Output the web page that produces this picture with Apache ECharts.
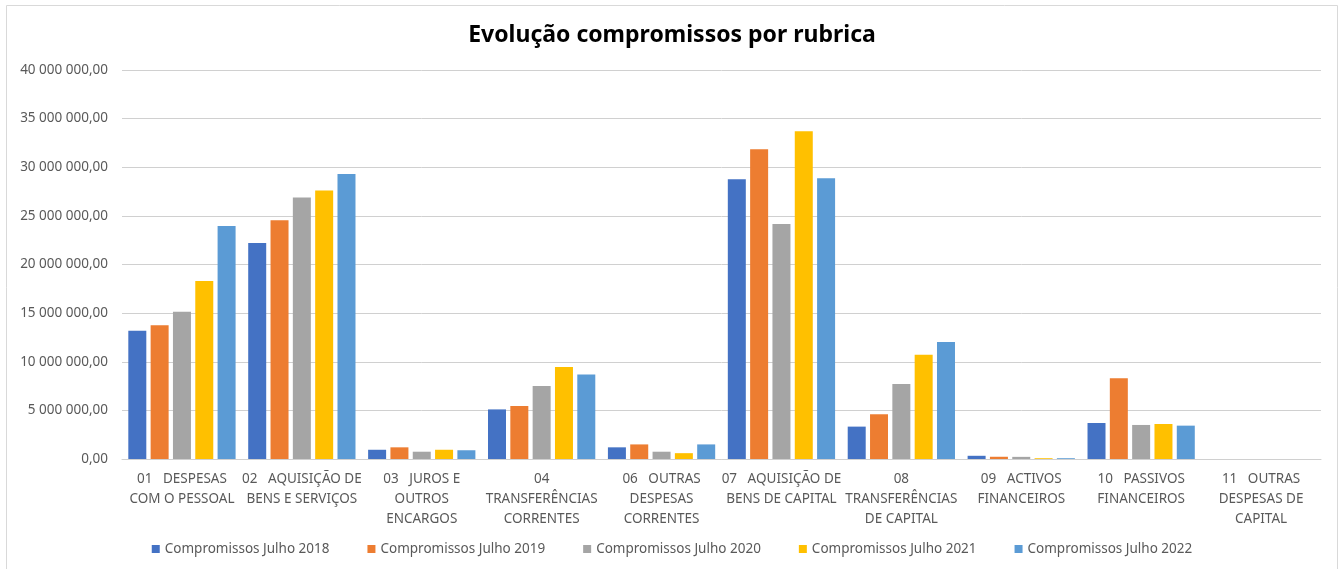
<!DOCTYPE html>
<html>
<head>
<meta charset="utf-8">
<script src="https://cdn.jsdelivr.net/npm/echarts@6/dist/echarts.min.js"></script>
<style>
  html, body { margin: 0; padding: 0; background: #fff; }
  #chart { width: 1344px; height: 569px; }
</style>
</head>
<body>
<div id="chart"></div>
<script>
// rubricas (eixo x)
const categories = [
  '01   DESPESAS\nCOM O PESSOAL',
  '02   AQUISIÇÃO DE\nBENS E SERVIÇOS',
  '03   JUROS E\nOUTROS\nENCARGOS',
  '04\nTRANSFERÊNCIAS\nCORRENTES',
  '06   OUTRAS\nDESPESAS\nCORRENTES',
  '07   AQUISIÇÃO DE\nBENS DE CAPITAL',
  '08\nTRANSFERÊNCIAS\nDE CAPITAL',
  '09   ACTIVOS\nFINANCEIROS',
  '10   PASSIVOS\nFINANCEIROS',
  '11   OUTRAS\nDESPESAS DE\nCAPITAL'
];

const seriesNames = [
  'Compromissos Julho 2018',
  'Compromissos Julho 2019',
  'Compromissos Julho 2020',
  'Compromissos Julho 2021',
  'Compromissos Julho 2022'
];

// valores
const julho2018 = [13200000, 22200000, 950000, 5100000, 1200000, 28760000, 3330000, 330000, 3700000, 0];
const julho2019 = [13750000, 24550000, 1200000, 5450000, 1500000, 31850000, 4600000, 230000, 8300000, 0];
const julho2020 = [15150000, 26900000, 750000, 7500000, 750000, 24160000, 7700000, 220000, 3500000, 0];
const julho2021 = [18300000, 27600000, 950000, 9450000, 600000, 33700000, 10730000, 80000, 3600000, 0];
const julho2022 = [23960000, 29300000, 900000, 8700000, 1500000, 28860000, 12030000, 80000, 3430000, 0];

const colors = ['#4472C4', '#ED7D31', '#A5A5A5', '#FFC000', '#5B9BD5'];
const allValues = [julho2018, julho2019, julho2020, julho2021, julho2022];

const font = '"Noto Sans", "Open Sans", sans-serif';

function formatPt(v) {
  const parts = Math.round(v).toString().replace(/\B(?=(\d{3})+(?!\d))/g, ' ');
  return parts + ',00';
}

const chart = echarts.init(document.getElementById('chart'));

const option = {
  animation: false,
  color: colors,
  title: {
    text: 'Evolução compromissos por rubrica',
    left: 'center',
    top: 19,
    textStyle: {
      fontFamily: font,
      fontSize: 23,
      fontWeight: 'bold',
      color: '#000'
    }
  },
  graphic: [{
    type: 'rect',
    shape: { x: 6.5, y: 5.5, width: 1331, height: 580 },
    style: { fill: 'none', stroke: '#d9d9d9', lineWidth: 1 },
    silent: true
  }],
  legend: {
    data: seriesNames,
    bottom: 8,
    left: 'center',
    icon: 'rect',
    itemWidth: 8,
    itemHeight: 8,
    itemGap: 38,
    textStyle: {
      fontFamily: font,
      fontSize: 13.5,
      color: '#595959'
    }
  },
  grid: {
    left: 122,
    right: 23,
    top: 70,
    bottom: 110
  },
  xAxis: {
    type: 'category',
    data: categories,
    axisLine: { lineStyle: { color: '#d0d0d0' } },
    axisTick: { show: false },
    axisLabel: {
      interval: 0,
      margin: 10,
      lineHeight: 20,
      fontFamily: font,
      fontSize: 13.5,
      color: '#595959'
    }
  },
  yAxis: {
    type: 'value',
    min: 0,
    max: 40000000,
    interval: 5000000,
    axisLine: { show: false },
    axisTick: { show: false },
    splitLine: { lineStyle: { color: '#d0d0d0' } },
    axisLabel: {
      margin: 14,
      fontFamily: font,
      fontSize: 13.5,
      color: '#595959',
      formatter: formatPt
    }
  },
  series: seriesNames.map((name, i) => ({
    name: name,
    type: 'bar',
    data: allValues[i],
    barWidth: 18,
    barGap: '24%',
    itemStyle: { color: colors[i] }
  }))
};

chart.setOption(option);
</script>
</body>
</html>
